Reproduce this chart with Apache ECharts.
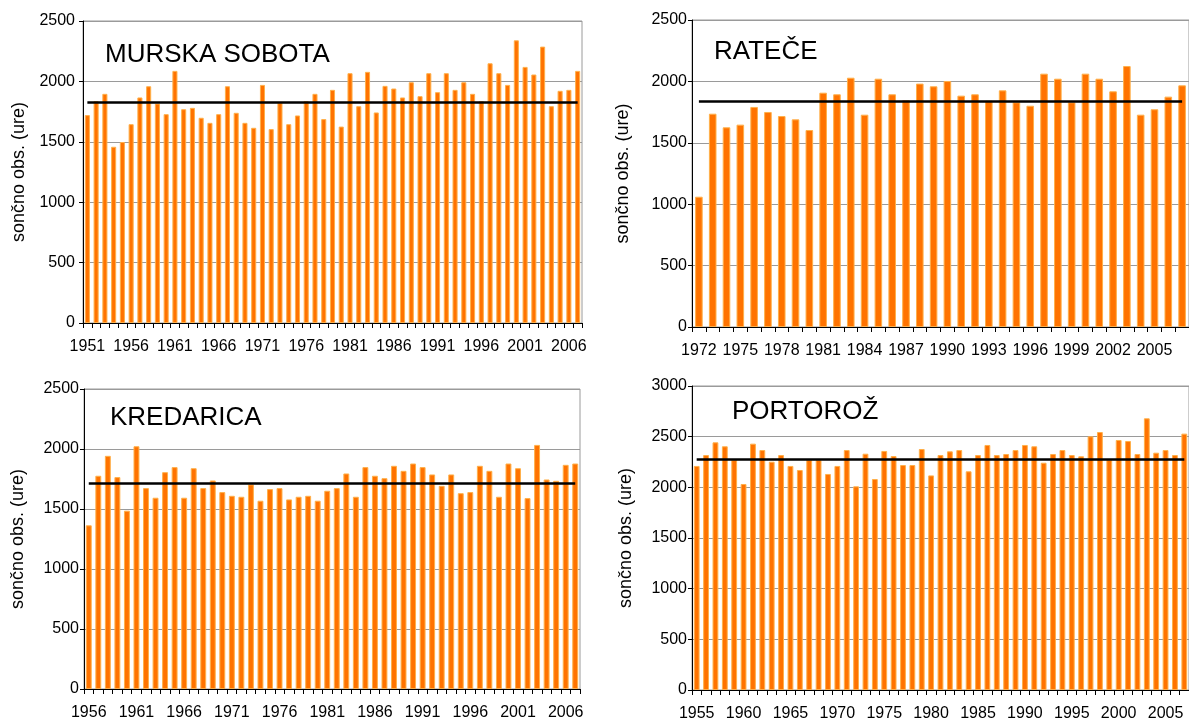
<!DOCTYPE html>
<html>
<head>
<meta charset="utf-8">
<title>Sončno obsevanje</title>
<script src="https://cdn.jsdelivr.net/npm/echarts@6/dist/echarts.min.js"></script>
<style>
  html, body { margin: 0; padding: 0; background: #ffffff; }
  #chart { width: 1189px; height: 722px; }
</style>
</head>
<body>
<div id="chart"></div>
<script>
// Annual sunshine duration (hours) per station, with the long-term mean line.
function yearRange(first, last) {
  const out = [];
  for (let y = first; y <= last; y++) out.push(String(y));
  return out;
}

const yearsMurska = yearRange(1951, 2007);
const sunMurska = [
  1721, 1836, 1897, 1459, 1498, 1646, 1867, 1960, 1817, 1729,
  2087, 1770, 1781, 1699, 1657, 1729, 1960, 1740, 1657, 1616,
  1971, 1605, 1823, 1646, 1718, 1836, 1897, 1688, 1930, 1626,
  2068, 1795, 2079, 1743, 1963, 1941, 1867, 1993, 1878, 2068,
  1911, 2068, 1930, 1993, 1897, 1836, 2150, 2068, 1971, 2340,
  2120, 2057, 2288, 1795, 1922, 1930, 2087
];
const meanMurska = 1825;

const yearsRatece = yearRange(1972, 2007);
const sunRatece = [
  1061, 1737, 1626, 1648, 1792, 1751, 1718, 1691, 1604, 1908,
  1895, 2030, 1729, 2022, 1895, 1846, 1982, 1960, 2003, 1884,
  1895, 1843, 1927, 1830, 1802, 2063, 2022, 1830, 2063, 2022,
  1919, 2125, 1729, 1773, 1876, 1968
];
const meanRatece = 1835;

const yearsKredarica = yearRange(1956, 2007);
const sunKredarica = [
  1364, 1777, 1943, 1766, 1486, 2023, 1674, 1594, 1807, 1849,
  1594, 1840, 1674, 1738, 1641, 1610, 1602, 1705, 1569, 1666,
  1674, 1580, 1602, 1610, 1569, 1652, 1674, 1796, 1602, 1849,
  1777, 1757, 1860, 1818, 1879, 1849, 1788, 1693, 1788, 1632,
  1641, 1860, 1818, 1602, 1879, 1840, 1591, 2034, 1746, 1735,
  1868, 1879
];
const meanKredarica = 1712;

const yearsPortoroz = yearRange(1955, 2007);
const sunPortoroz = [
  2211, 2319, 2444, 2405, 2272, 2033, 2431, 2368, 2253, 2319,
  2211, 2171, 2272, 2270, 2132, 2211, 2368, 2010, 2332, 2082,
  2359, 2309, 2220, 2220, 2378, 2118, 2319, 2355, 2368, 2158,
  2319, 2418, 2319, 2329, 2368, 2418, 2405, 2243, 2329, 2368,
  2319, 2306, 2503, 2546, 2270, 2467, 2457, 2329, 2681, 2342,
  2368, 2319, 2530
];
const meanPortoroz = 2276;

const yAxisTitle = 'sončno obs. (ure)';

const FONT = '"Liberation Sans", Arial, Helvetica, sans-serif';
const BAR_COLOR = '#ff7300';
const BAR_EDGE = '#ffb04a';

// One panel per station: data plus its placement on the page.
const panels = [
  { name: 'MURSKA SOBOTA', years: yearsMurska, values: sunMurska, mean: meanMurska,
    yMax: 2500, labelEvery: 5,
    grid: { left: 83, top: 21, width: 499, height: 302 },
    titlePos: { left: 100, top: 37 }, nameGap: 55, labelMargin: 8, barGap: '42%' },
  { name: 'RATEČE', years: yearsRatece, values: sunRatece, mean: meanRatece,
    yMax: 2500, labelEvery: 3,
    grid: { left: 692, top: 20, width: 502, height: 307 },
    titlePos: { left: 709, top: 34 }, nameGap: 60, labelMargin: 5, barGap: '45%' },
  { name: 'KREDARICA', years: yearsKredarica, values: sunKredarica, mean: meanKredarica,
    yMax: 2500, labelEvery: 5,
    grid: { left: 84, top: 389, width: 496, height: 300 },
    titlePos: { left: 105, top: 400 }, nameGap: 57, labelMargin: 5, barGap: '38%' },
  { name: 'PORTOROŽ', years: yearsPortoroz, values: sunPortoroz, mean: meanPortoroz,
    yMax: 3000, labelEvery: 5,
    grid: { left: 692, top: 386, width: 500, height: 304 },
    titlePos: { left: 727, top: 394 }, nameGap: 57, labelMargin: 5, barGap: '38%' }
];

const option = {
  backgroundColor: '#ffffff',
  animation: false,
  textStyle: { fontFamily: FONT },
  title: [],
  grid: [],
  xAxis: [],
  yAxis: [],
  series: []
};

panels.forEach((p, i) => {
  option.title.push({
    text: p.name,
    left: p.titlePos.left,
    top: p.titlePos.top,
    textStyle: { fontFamily: FONT, fontSize: 26, fontWeight: 'normal', color: '#000' }
  });

  option.grid.push(Object.assign({
    show: true,
    borderColor: '#9a9a9a',
    borderWidth: 1,
    backgroundColor: 'transparent'
  }, p.grid));

  option.xAxis.push({
    type: 'category',
    gridIndex: i,
    data: p.years,
    boundaryGap: true,
    axisLine: { show: true, lineStyle: { color: '#000', width: 1 } },
    axisTick: { show: true, interval: 0, length: 5, lineStyle: { color: '#000' } },
    axisLabel: {
      interval: p.labelEvery - 1,
      margin: 16,
      fontFamily: FONT,
      fontSize: 16,
      color: '#000'
    },
    splitLine: { show: false }
  });

  option.yAxis.push({
    type: 'value',
    gridIndex: i,
    min: 0,
    max: p.yMax,
    interval: 500,
    name: yAxisTitle,
    nameLocation: 'middle',
    nameGap: p.nameGap,
    nameRotate: 90,
    nameTextStyle: { fontFamily: FONT, fontSize: 18, color: '#000' },
    axisLine: { show: true, lineStyle: { color: '#000', width: 1 } },
    axisTick: { show: true, length: 4, lineStyle: { color: '#000' } },
    axisLabel: {
      margin: p.labelMargin,
      fontFamily: FONT,
      fontSize: 16,
      color: '#000',
      formatter: (v) => String(v)
    },
    splitLine: { show: true, lineStyle: { color: '#9a9a9a', width: 1 } }
  });

  option.series.push({
    type: 'bar',
    xAxisIndex: i,
    yAxisIndex: i,
    data: p.values,
    barCategoryGap: p.barGap,
    itemStyle: { color: BAR_COLOR, borderColor: BAR_EDGE, borderWidth: 1 },
    markLine: {
      silent: true,
      symbol: 'none',
      label: { show: false },
      lineStyle: { color: '#000', width: 2.5, type: 'solid' },
      data: [[
        { coord: [p.years[0], p.mean] },
        { coord: [p.years[p.years.length - 1], p.mean] }
      ]]
    }
  });
});

const chart = echarts.init(document.getElementById('chart'), null, { renderer: 'canvas' });
chart.setOption(option);
</script>
</body>
</html>
